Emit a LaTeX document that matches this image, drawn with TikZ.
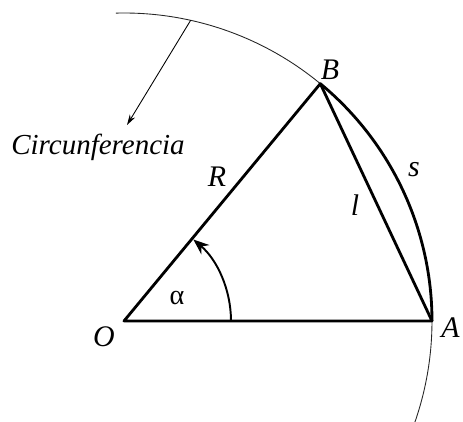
\documentclass[tikz,border=0pt]{standalone}
\usepackage{fontspec}
\setmainfont{Liberation Serif}
\newfontfamily\figfont{Liberation Serif}
\usetikzlibrary{arrows.meta, calc}

\begin{document}
\begin{tikzpicture}[
  thinline/.style={line width=0.5pt, black!85},
  side/.style={line width=1.6pt, line join=round},
  anglearc/.style={line width=1.1pt, -{Stealth[length=9pt, width=7pt]}},
  pointer/.style={line width=0.5pt, -{Stealth[length=6pt, width=3.5pt]}},
  ptlabel/.style={font=\figfont\fontsize{17}{19}\selectfont\itshape, inner sep=0pt},
  txtlabel/.style={font=\figfont\fontsize{16.5}{19}\selectfont\itshape, inner sep=0pt}
]
\useasboundingbox (-2.48,-2.02) rectangle (6.78,6.42);

% ---- points ----
\coordinate (O) at (0,0);
\coordinate (A) at (0:6.16);
\coordinate (B) at (50.4:6.16);
\coordinate (tick) at (77.5:6.16);
\coordinate (tip) at (0.06,3.92);

% ---- circle ----
\draw[thinline] (-19.5:6.16) arc (-19.5:91.5:6.16);

% ---- triangle and arc s ----
\draw[side] (A) -- (O) -- (B) -- cycle;
\draw[side] (A) arc (0:50.4:6.16);

% ---- angle ----
\draw[anglearc] (0:2.14) arc (0:49.6:2.14);

% ---- pointer to the circle ----
\draw[pointer] (tick) -- (tip);

% ---- labels ----
\node[ptlabel] (lO) at (-0.4,-0.32) {O};
\node[ptlabel, anchor=west] (lA) at (6.34,-0.14) {A};
\node[ptlabel] (lB) at (4.12,5.02) {B};
\node[ptlabel] (lR) at (1.86,2.88) {R};
\node[ptlabel] (ll) at (4.62,2.32) {l};
\node[ptlabel] (ls) at (5.8,3.02) {s};
\node[font=\figfont\fontsize{16}{18}\selectfont, inner sep=0pt] (lalpha) at (1.06,0.46) {α};
\node[txtlabel] (lcirc) at (-0.52,3.48) {Circunferencia};
\end{tikzpicture}
\end{document}
